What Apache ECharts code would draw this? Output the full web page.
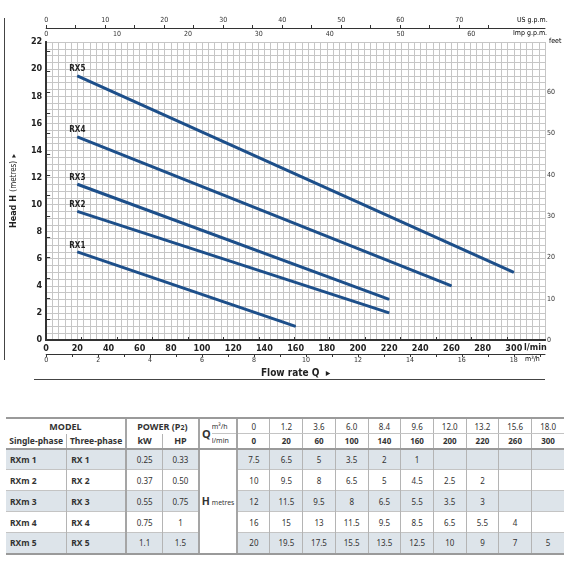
<!DOCTYPE html>
<html>
<head>
<meta charset="utf-8">
<script src="https://cdn.jsdelivr.net/npm/echarts@6/dist/echarts.min.js"></script>
<style>
  body { margin:0; background:#fff; }
  #main { position:absolute; left:0; top:0; width:568px; height:390px; }
  #tbl { position:absolute; left:6px; top:417px; width:558px; border-collapse:collapse; table-layout:fixed;
         font-family:"Noto Sans","Open Sans",sans-serif; font-size:8px; color:#333; }
  #tbl td { padding:0; text-align:center; border-left:1px solid #b4b4b4; border-top:1px solid #c4c4c4; white-space:nowrap; overflow:hidden; }
  #tbl tr.h1 td { border-top:2px solid #9a9a9a; }
  #tbl tr.h2 td { border-bottom:2px solid #9a9a9a; }
  #tbl tr.shade td.v { background:#dde4ea; }
  #tbl td.b { font-weight:bold; }
  #tbl td.name { text-align:left; padding-left:4px; font-weight:bold; font-size:8.5px; }
  #tbl tr.last td { border-bottom:2px solid #9a9a9a; }
  #tbl td.thick { border-left:2px solid #a5a5a5; }
  #tbl td.first { border-left:none; }
</style>
</head>
<body>
<div id="main"></div>
<table id="tbl"></table>
<script>
// flow rate columns of the table
var flowLpm = [0, 20, 60, 100, 140, 160, 200, 220, 260, 300];
var flowM3h = ['0', '1.2', '3.6', '6.0', '8.4', '9.6', '12.0', '13.2', '15.6', '18.0'];

// models
var curveNames = ['RX1', 'RX2', 'RX3', 'RX4', 'RX5'];
var singlePhase = ['RXm 1', 'RXm 2', 'RXm 3', 'RXm 4', 'RXm 5'];
var threePhase = ['RX 1', 'RX 2', 'RX 3', 'RX 4', 'RX 5'];
var powerKw = ['0.25', '0.37', '0.55', '0.75', '1.1'];
var powerHp = ['0.33', '0.50', '0.75', '1', '1.5'];

// head H (metres) for every flow column (table)
var headRX1 = [7.5, 6.5, 5, 3.5, 2, 1, null, null, null, null];
var headRX2 = [10, 9.5, 8, 6.5, 5, 4.5, 2.5, 2, null, null];
var headRX3 = [12, 11.5, 9.5, 8, 6.5, 5.5, 3.5, 3, null, null];
var headRX4 = [16, 15, 13, 11.5, 9.5, 8.5, 6.5, 5.5, 4, null];
var headRX5 = [20, 19.5, 17.5, 15.5, 13.5, 12.5, 10, 9, 7, 5];
var heads = [headRX1, headRX2, headRX3, headRX4, headRX5];

// curves as drawn on the chart: straight from first to last point (l/min, metres)
var curveFlowStart = [20, 20, 20, 20, 20];
var curveFlowEnd = [160, 220, 220, 260, 300];
var curveHeadStart = [6.5, 9.5, 11.5, 15, 19.5];
var curveHeadEnd = [1, 2, 3, 4, 5];

// tick labels of the secondary scales
var impTicks = [0, 5, 10, 15, 20, 25, 30, 35, 40, 45, 50, 55, 60, 65];
var impLabels = [0, 10, 20, 30, 40, 50, 60];
var usTicks = [0, 5, 10, 15, 20, 25, 30, 35, 40, 45, 50, 55, 60, 65, 70, 75];
var usLabels = [0, 10, 20, 30, 40, 50, 60, 70];
var m3hTicks = [0, 1, 2, 3, 4, 5, 6, 7, 8, 9, 10, 11, 12, 13, 14, 15, 16, 17, 18, 19];
var m3hLabels = [0, 2, 4, 6, 8, 10, 12, 14, 16, 18];
var feetTicks = [0, 5, 10, 15, 20, 25, 30, 35, 40, 45, 50, 55, 60, 65, 70];
var feetLabels = [0, 10, 20, 30, 40, 50, 60];

var LPM_MAX = 320, H_MAX = 22;
var FONT = '"Liberation Sans Narrow","DejaVu Sans Condensed",Arial,sans-serif';
var GRID = '#c6c6c6', DARK = '#333';

var series = curveNames.map(function (name, i) {
    return {
        type: 'line', name: name, xAxisIndex: 0, yAxisIndex: 0,
        data: [
            { value: [curveFlowStart[i], curveHeadStart[i]],
              label: { show: true, position: 'top', distance: 2, formatter: name,
                       fontFamily: FONT, fontWeight: 'bold', fontSize: 8, color: '#222' } },
            { value: [curveFlowEnd[i], curveHeadEnd[i]] }
        ],
        symbol: 'circle', symbolSize: 1, showSymbol: true,
        itemStyle: { color: '#1d4f8a' },
        lineStyle: { color: '#1d4f8a', width: 3 },
        emphasis: { disabled: true }, silent: true, z: 5
    };
});

var small = { fontFamily: FONT, fontSize: 7, color: '#333' };

var chart = echarts.init(document.getElementById('main'));
chart.setOption({
    animation: false,
    grid: { left: 36, top: 42, width: 509, height: 298, show: false },
    xAxis: [
        {   // l/min, bottom
            type: 'value', position: 'bottom', min: 0, max: LPM_MAX, interval: 20,
            axisLine: { show: true, lineStyle: { color: DARK, width: 2 } },
            axisTick: { show: false },
            axisLabel: { showMaxLabel: false, margin: 4, fontFamily: FONT, fontSize: 9, fontWeight: 'bold', color: '#222' },
            splitLine: { show: true, lineStyle: { color: GRID, width: 1 } },
            minorTick: { show: false, splitNumber: 5 },
            minorSplitLine: { show: true, lineStyle: { color: GRID, width: 1 } }
        },
        {   // Imp gpm, on the plot top
            type: 'value', position: 'top', min: 0, max: LPM_MAX / 4.54609,
            axisLine: { show: true, lineStyle: { color: DARK, width: 2 } },
            axisTick: { show: true, customValues: impTicks, length: 3, lineStyle: { color: DARK } },
            axisLabel: { customValues: impLabels, margin: 4, fontFamily: FONT, fontSize: 7, color: '#333' },
            splitLine: { show: false }
        },
        {   // US gpm, separate line above
            type: 'value', position: 'top', offset: 14, min: 0, max: LPM_MAX / 3.78541,
            axisLine: { show: true, lineStyle: { color: DARK, width: 1 } },
            axisTick: { show: true, customValues: usTicks, length: 3, lineStyle: { color: DARK } },
            axisLabel: { customValues: usLabels, margin: 4, fontFamily: FONT, fontSize: 7, color: '#333' },
            splitLine: { show: false }
        },
        {   // m3/h, separate line below
            type: 'value', position: 'bottom', offset: 14, min: 0, max: LPM_MAX / (1000 / 60),
            axisLine: { show: true, lineStyle: { color: DARK, width: 1 } },
            axisTick: { show: true, customValues: m3hTicks, length: 3, lineStyle: { color: DARK } },
            axisLabel: { customValues: m3hLabels, margin: 3, fontFamily: FONT, fontSize: 7, color: '#333' },
            splitLine: { show: false },
            name: 'Flow rate Q  \u25B8', nameLocation: 'middle', nameGap: 13,
            nameTextStyle: { fontFamily: FONT, fontSize: 10, fontWeight: 'bold', color: '#222' }
        }
    ],
    yAxis: [
        {
            type: 'value', position: 'left', min: 0, max: H_MAX, interval: 2,
            axisLine: { show: true, lineStyle: { color: DARK, width: 2 } },
            axisTick: { show: false },
            axisLabel: { margin: 4, fontFamily: FONT, fontSize: 9, fontWeight: 'bold', color: '#222' },
            splitLine: { show: true, lineStyle: { color: GRID, width: 1 } },
            minorTick: { show: false, splitNumber: 4 },
            minorSplitLine: { show: true, lineStyle: { color: GRID, width: 1 } },
            name: '{b|Head H} {n|(metres)} {n|\u25B8}', nameLocation: 'middle', nameGap: 19, nameRotate: 90,
            nameTextStyle: { rich: {
                b: { fontFamily: FONT, fontSize: 9, fontWeight: 'bold', color: '#222' },
                n: { fontFamily: FONT, fontSize: 8, color: '#222' }
            } }
        },
        {
            type: 'value', position: 'right', min: 0, max: H_MAX * 3.28084,
            axisLine: { show: true, lineStyle: { color: DARK, width: 2 } },
            axisTick: { show: true, customValues: feetTicks, length: 4, lineStyle: { color: DARK } },
            axisLabel: { customValues: feetLabels, margin: 2, fontFamily: FONT, fontSize: 7, color: '#333' },
            splitLine: { show: false }
        }
    ],
    graphic: [
        { type: 'text', left: 517, top: 17, style: Object.assign({ text: 'US g.p.m.' }, small) },
        { type: 'text', left: 513, top: 30, style: Object.assign({ text: 'Imp g.p.m.' }, small) },
        { type: 'text', left: 549, top: 38, style: Object.assign({ text: 'feet' }, small) },
        { type: 'text', left: 524, top: 343, style: { text: 'l/min', fontFamily: FONT, fontSize: 9, fontWeight: 'bold', fill: '#222' } },
        { type: 'text', left: 525, top: 356, style: Object.assign({ text: 'm\u00B3/h' }, small) },
        { type: 'line', shape: { x1: 4.5, y1: 18, x2: 4.5, y2: 360 }, style: { stroke: '#444', lineWidth: 1 } },
        { type: 'line', shape: { x1: 34, y1: 379.5, x2: 545, y2: 379.5 }, style: { stroke: '#444', lineWidth: 1 } }
    ],
    series: series
});

// performance table
var html = '<colgroup><col style="width:60.7px"><col style="width:59.3px"><col style="width:36.7px"><col style="width:36px">' +
    '<col style="width:13px"><col style="width:25.6px">';
for (var c = 0; c < flowLpm.length; c++) html += '<col style="width:32.7px">';
html += '</colgroup>';

html += '<tr class="h1" style="height:15.5px">' +
    '<td class="b first" colspan="2" style="font-size:9px;border-bottom:none">MODEL</td>' +
    '<td class="b thick" colspan="2" style="font-size:9px;border-bottom:none">POWER (P<span style="font-size:7px">2</span>)</td>' +
    '<td class="b thick" rowspan="2" style="font-size:11px;border-bottom:2px solid #9a9a9a;text-align:right;padding-right:1px">Q</td>' +
    '<td style="border-left:none;text-align:left;font-size:7px;border-bottom:1px solid #c4c4c4">m\u00B3/h</td>';
flowM3h.forEach(function (v, i) {
    html += '<td class="' + (i === 0 ? 'thick' : '') + '" style="border-bottom:1px solid #c4c4c4">' + v + '</td>';
});
html += '</tr>';

html += '<tr class="h2" style="height:15px">' +
    '<td class="b first" style="font-size:8.5px;border-top:none">Single-phase</td>' +
    '<td class="b" style="font-size:8.5px;border-top:none">Three-phase</td>' +
    '<td class="b thick" style="font-size:9px;border-top:none">kW</td>' +
    '<td class="b" style="font-size:9px;border-top:none">HP</td>' +
    '<td style="border-left:none;text-align:left;font-size:7px">l/min</td>';
flowLpm.forEach(function (v, i) {
    html += '<td class="b' + (i === 0 ? ' thick' : '') + '">' + v + '</td>';
});
html += '</tr>';

for (var r = 0; r < heads.length; r++) {
    var cls = (r % 2 === 0 ? 'shade' : '') + (r === heads.length - 1 ? ' last' : '');
    html += '<tr class="' + cls + '" style="height:21px">' +
        '<td class="v name first">' + singlePhase[r] + '</td>' +
        '<td class="v name">' + threePhase[r] + '</td>' +
        '<td class="v thick">' + powerKw[r] + '</td>' +
        '<td class="v">' + powerHp[r] + '</td>';
    if (r === 0) {
        html += '<td class="thick" colspan="2" rowspan="5" style="text-align:left;padding-left:2px;border-bottom:2px solid #9a9a9a">' +
            '<span style="font-weight:bold;font-size:10.5px">H</span> <span style="font-size:6.8px">metres</span></td>';
    }
    heads[r].forEach(function (v, i) {
        html += '<td class="v' + (i === 0 ? ' thick' : '') + '">' + (v == null ? '' : v) + '</td>';
    });
    html += '</tr>';
}
document.getElementById('tbl').innerHTML = html;
</script>
</body>
</html>
